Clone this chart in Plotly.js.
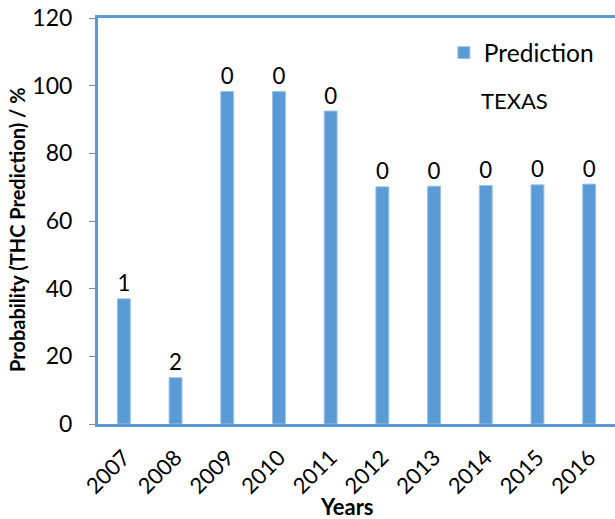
<!DOCTYPE html>
<html>
<head>
<meta charset="utf-8">
<script src="https://cdn.plot.ly/plotly-3.0.1.min.js"></script>
<style>html,body{margin:0;padding:0;background:#fff;}#chart{width:615px;height:519px;}</style>
</head>
<body>
<div id="chart"></div>
<script>
const years = ['2007','2008','2009','2010','2011','2012','2013','2014','2015','2016'];
const probability = [37.0, 13.7, 98.3, 98.3, 92.5, 70.1, 70.3, 70.5, 70.7, 70.9];
const barLabels = ['1','2','0','0','0','0','0','0','0','0'];
const yTicks = [0, 20, 40, 60, 80, 100, 120];

const blue = '#5B9BD5';
const font = 'Lato, "Open Sans", sans-serif';

const trace = {
  type: 'bar',
  x: years,
  y: probability,
  name: 'Prediction',
  text: barLabels,
  textposition: 'outside',
  textfont: {family: font, size: 25, color: '#000'},
  cliponaxis: false,
  width: 0.25,
  marker: {color: blue, line: {color: '#9DC3E6', width: 1}},
  showlegend: true
};

const layout = {
  width: 615, height: 519,
  margin: {l: 98, r: 0, t: 18, b: 95},
  paper_bgcolor: '#fff', plot_bgcolor: '#fff',
  font: {family: font, color: '#000'},
  bargap: 0.75,
  xaxis: {
    type: 'category',
    tickangle: -45,
    tickfont: {family: font, size: 22, color: '#000'},
    showline: true, linecolor: blue, linewidth: 3, mirror: true,
    ticks: 'outside', ticklen: 9, tickcolor: 'rgba(0,0,0,0)',
    showgrid: false, zeroline: false
  },
  yaxis: {
    range: [0, 120],
    tickvals: yTicks,
    ticks: 'outside', ticklen: 6, tickcolor: '#888', tickwidth: 1,
    ticklabelstandoff: 12,
    tickfont: {family: font, size: 23, color: '#000'},
    showline: true, linecolor: blue, linewidth: 3, mirror: true,
    showgrid: false, zeroline: false
  },
  legend: {
    x: 0.669, y: 0.97, xanchor: 'left', yanchor: 'top',
    font: {family: font, size: 24.5, color: '#000'},
    bgcolor: 'rgba(0,0,0,0)', itemwidth: 30
  },
  annotations: [
    {text: 'TEXAS', xref: 'paper', yref: 'paper', x: 0.805, y: 0.796, xanchor: 'center', yanchor: 'middle', showarrow: false, font: {family: font, size: 22, color: '#000'}},
    {text: '<b>Years</b>', xref: 'paper', yref: 'paper', x: (347 - 98) / 517, y: (424 - 506) / 406, xanchor: 'center', yanchor: 'middle', showarrow: false, font: {family: font, size: 22, color: '#000'}},
    {text: '<b>Probability (THC Prediction) / %</b>', xref: 'paper', yref: 'paper', x: -0.157, y: 0.48, xanchor: 'center', yanchor: 'middle', textangle: -90, showarrow: false, font: {family: font, size: 20, color: '#000'}}
  ]
};

Plotly.newPlot('chart', [trace], layout, {displayModeBar: false, responsive: false});
</script>
</body>
</html>
